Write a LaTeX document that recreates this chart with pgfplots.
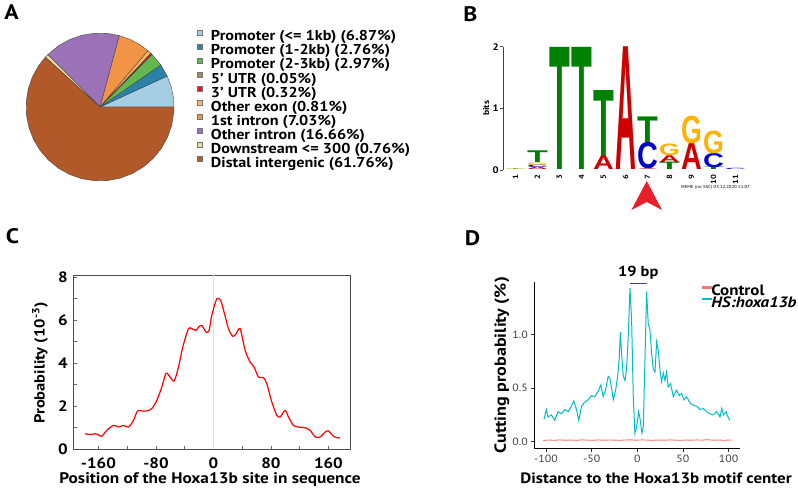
\documentclass[border=0pt]{standalone}
\usepackage{pgfplots}
\usepackage{pgfplotstable}
\pgfplotsset{compat=1.18}
\usepgfplotslibrary{polar}
\usepackage{fontspec}
\setmainfont{PT Sans}[FakeStretch=1.13]
\newfontfamily\logofont{Liberation Sans}
\definecolor{cPa}{HTML}{A6CEE3}
\definecolor{cPb}{HTML}{2A82A8}
\definecolor{cPc}{HTML}{62B84E}
\definecolor{cUf}{HTML}{A88B6A}
\definecolor{cUt}{HTML}{E31A1C}
\definecolor{cEx}{HTML}{FDB863}
\definecolor{cIa}{HTML}{F29445}
\definecolor{cIo}{HTML}{9B72B8}
\definecolor{cDs}{HTML}{E8DCA0}
\definecolor{cDi}{HTML}{B15928}
\definecolor{lgA}{HTML}{CC0000}
\definecolor{lgC}{HTML}{0000CC}
\definecolor{lgG}{HTML}{FFB300}
\definecolor{lgT}{HTML}{008000}
\definecolor{ctrlpink}{HTML}{F8766D}
\definecolor{hsx}{HTML}{00BFC4}
\definecolor{bpblue}{HTML}{3C3C9C}
\definecolor{arrowred}{HTML}{E8202A}

% sequence logo stacks: position, bottom (bits), height (bits)
\pgfplotstableread{
x y h
1 0.012 0.010
2 0.12 0.19
3 0 1.98
4 0 1.98
5 0.22 1.07
7 0.445 0.415
8 0 0.12
10 0 0.04
}\tabT
\pgfplotstableread{
x y h
2 0 0.04
5 0 0.22
6 0 1.99
7 0 0.015
8 0.12 0.11
9 0 0.43
}\tabA
\pgfplotstableread{
x y h
2 0.04 0.04
7 0.015 0.43
10 0.04 0.23
11 0 0.02
}\tabC
\pgfplotstableread{
x y h
1 0 0.012
2 0.08 0.04
8 0.23 0.19
9 0.43 0.45
10 0.27 0.37
}\tabG

\begin{document}
\begin{tikzpicture}
\useasboundingbox (0pt,0pt) rectangle (798pt,493pt);

% ---------------- Panel A ----------------
\begin{polaraxis}[
  at={(100pt,386pt)}, anchor=center,
  scale only axis, width=148pt, height=148pt,
  hide axis, clip=false,
  xmin=0, xmax=360, ymin=0, ymax=1,
  legend style={at={(axis description cs:1.152,1.0216)}, anchor=north west, draw=none, fill=none,
    font=\bfseries\fontsize{14.3}{15}\selectfont, row sep=0.7pt, inner sep=0pt,
    nodes={inner sep=0pt, text height=9.5pt, text depth=2.5pt},
    /tikz/every odd column/.append style={column sep=8.5pt}},
  legend cell align=left,
  legend image code/.code={\draw[#1,draw=black!55,line width=0.3pt] (0pt,2.6pt) rectangle (5.5pt,7.2pt);},
]
\addplot[fill=cPa, draw=black!75, line width=0.35pt] coordinates {(0,0) (0,1) (8,1) (16,1) (24.73,1) (0,0)};
\addlegendentry{Promoter (<= 1kb) (6.87\%)}
\addplot[fill=cPb, draw=black!75, line width=0.35pt] coordinates {(0,0) (24.73,1) (34.67,1) (0,0)};
\addlegendentry{Promoter (1-2kb) (2.76\%)}
\addplot[fill=cPc, draw=black!75, line width=0.35pt] coordinates {(0,0) (34.67,1) (45.36,1) (0,0)};
\addlegendentry{Promoter (2-3kb) (2.97\%)}
\addplot[fill=cUf, draw=black!75, line width=0.35pt] coordinates {(0,0) (45.36,1) (45.54,1) (0,0)};
\addlegendentry{5’ UTR (0.05\%)}
\addplot[fill=cUt, draw=black!75, line width=0.35pt] coordinates {(0,0) (45.54,1) (46.69,1) (0,0)};
\addlegendentry{3’ UTR (0.32\%)}
\addplot[fill=cEx, draw=black!75, line width=0.35pt] coordinates {(0,0) (46.69,1) (49.61,1) (0,0)};
\addlegendentry{Other exon (0.81\%)}
\addplot[fill=cIa, draw=black!75, line width=0.35pt] coordinates {(0,0) (49.61,1) (58,1) (66,1) (74.92,1) (0,0)};
\addlegendentry{1st intron (7.03\%)}
\addplot[fill=cIo, draw=black!75, line width=0.35pt] coordinates {(0,0) (74.92,1) (84,1) (94,1) (104,1) (114,1) (124,1) (134.89,1) (0,0)};
\addlegendentry{Other intron (16.66\%)}
\addplot[fill=cDs, draw=black!75, line width=0.35pt] coordinates {(0,0) (134.89,1) (137.63,1) (0,0)};
\addlegendentry{Downstream <= 300 (0.76\%)}
\addplot[fill=cDi, draw=black!75, line width=0.35pt] coordinates {(0,0) (137.63,1) (146,1) (156,1) (166,1) (176,1) (186,1) (196,1) (206,1) (216,1) (226,1) (236,1) (246,1) (256,1) (266,1) (276,1) (286,1) (296,1) (306,1) (316,1) (326,1) (336,1) (346,1) (356,1) (360,1) (0,0)};
\addlegendentry{Distal intergenic (61.76\%)}
\end{polaraxis}

% ---------------- Panel B ----------------
\begin{axis}[
  at={(503.3pt,323pt)}, anchor=south west,
  scale only axis, width=245.3pt, height=123.3pt,
  xmin=0.45, xmax=11.6, ymin=0, ymax=2,
  axis x line*=bottom, axis y line*=left,
  x axis line style={draw=none},
  y axis line style={-, black!75, line width=0.5pt},
  xtick={1,2,3,4,5,6,7,8,9,10,11}, ytick={0,1,2},
  xtick style={draw=none},
  ytick style={black!75, line width=0.5pt},
  tick align=outside, major tick length=3pt,
  /pgf/number format/assume math mode=true,
  xticklabel style={rotate=90, anchor=east, font=\bfseries\fontsize{7.5}{8}\selectfont, inner sep=1.5pt},
  yticklabel style={font=\bfseries\fontsize{9.5}{10}\selectfont, inner sep=1.5pt},
  ylabel={bits},
  ylabel style={at={(axis description cs:-0.07,0.5)}, anchor=center, font=\bfseries\fontsize{8.5}{9}\selectfont},
  clip=false,
]
\addplot[only marks, mark=none, visualization depends on={61.65*\thisrow{h}\as\hh},
  nodes near coords={\resizebox*{20.8pt}{\hh pt}{\logofont\bfseries T}},
  every node near coord/.append style={anchor=south, inner sep=0pt, outer sep=0pt, text=lgT}]
  table[x=x,y=y] {\tabT};
\addplot[only marks, mark=none, visualization depends on={61.65*\thisrow{h}\as\hh},
  nodes near coords={\resizebox*{20.8pt}{\hh pt}{\logofont\bfseries A}},
  every node near coord/.append style={anchor=south, inner sep=0pt, outer sep=0pt, text=lgA}]
  table[x=x,y=y] {\tabA};
\addplot[only marks, mark=none, visualization depends on={61.65*\thisrow{h}\as\hh},
  nodes near coords={\resizebox*{20.8pt}{\hh pt}{\logofont\bfseries C}},
  every node near coord/.append style={anchor=south, inner sep=0pt, outer sep=0pt, text=lgC}]
  table[x=x,y=y] {\tabC};
\addplot[only marks, mark=none, visualization depends on={61.65*\thisrow{h}\as\hh},
  nodes near coords={\resizebox*{20.8pt}{\hh pt}{\logofont\bfseries G}},
  every node near coord/.append style={anchor=south, inner sep=0pt, outer sep=0pt, text=lgG}]
  table[x=x,y=y] {\tabG};
\node[font=\fontsize{4.3}{5}\selectfont] at (axis cs:10.09,-0.29) {MEME (no SSC) 03.12.2020 21:07};
\end{axis}
\fill[arrowred] (646.7pt,312pt) -- (662pt,283pt) -- (646.7pt,291pt) -- (631.4pt,283pt) -- cycle;

% ---------------- Panel C ----------------
\begin{axis}[
  at={(73.3pt,44pt)}, anchor=south west,
  scale only axis, width=276.7pt, height=174pt,
  xmin=-195, xmax=190, ymin=0, ymax=8.1,
  xtick={-160,-80,0,80,160}, minor xtick={-120,-40,40,120},
  ytick={0,2,4,6,8}, minor ytick={1,3,5,7},
  tick pos=left, tick align=inside,
  major tick length=3.5pt, minor tick length=3.5pt,
  axis line style={black!70, line width=0.6pt},
  every tick/.style={black!60, line width=0.5pt},
  /pgf/number format/assume math mode=true,
  ticklabel style={font=\bfseries\fontsize{15}{17}\selectfont},
  xticklabel style={yshift=-5pt},
  yticklabel style={xshift=-2pt},
  xlabel={Position of the Hoxa13b site in sequence},
  ylabel={Probability (10\textsuperscript{-3})},
  xlabel style={at={(axis description cs:0.494,-0.178)}, anchor=center, font=\bfseries\fontsize{15.3}{17}\selectfont},
  ylabel style={at={(axis description cs:-0.12,0.494)}, anchor=center, font=\bfseries\fontsize{14.6}{16}\selectfont},
]
\addplot[gray!25, line width=0.8pt] coordinates {(0,0) (0,8.1)};
\addplot[red, line width=1.2pt, smooth, tension=0.45] coordinates {
(-178.6,0.71) (-171.6,0.67) (-164.6,0.71) (-160,0.66) (-155.4,0.59) (-148.4,0.87) (-139.1,1.10)
(-132.2,1.02) (-125.2,1.10) (-118.3,1.02) (-111.3,1.33) (-105.7,1.77) (-99.7,1.77)
(-92.8,1.77) (-85.8,1.88) (-78.8,2.26) (-71.9,2.88) (-65.9,3.53) (-60.3,3.35) (-54.7,3.16)
(-48.7,3.81) (-42.7,4.74) (-34.8,5.60) (-30.1,5.60) (-24.1,5.52) (-20.9,5.67) (-16.2,5.75)
(-10.2,5.44) (-6.0,5.52) (-2.3,6.22) (4.6,6.99) (10.2,6.91) (14.8,6.37) (20.9,5.60)
(26.9,5.24) (31.5,5.36) (37.1,5.60) (44.1,4.59) (51.0,4.05) (56.6,3.81) (62.6,3.35)
(69.6,3.32) (74.2,3.04) (81.2,2.19) (88.1,1.57) (92.8,1.49) (99.7,1.80) (104.4,1.49)
(111.3,1.10) (118.3,1.02) (127.5,0.99) (134.5,0.87) (141.5,0.56) (148.4,0.56) (155.4,0.79)
(160.0,0.84) (167.0,0.59) (173.9,0.51) (176.2,0.53)
};
\end{axis}

% ---------------- Panel D ----------------
\begin{axis}[
  at={(534.3pt,44.3pt)}, anchor=south west,
  scale only axis, width=205.7pt, height=167pt,
  xmin=-112.8, xmax=112.5, ymin=-0.065, ymax=1.491,
  axis x line*=bottom, axis y line*=left,
  axis line style={-, black, line width=0.8pt},
  xtick={-100,-50,0,50,100}, ytick={0,0.5,1},
  yticklabels={0.0,0.5,1.0},
  tick align=outside, major tick length=3pt,
  every tick/.style={black!85, line width=0.6pt},
  /pgf/number format/assume math mode=true,
  ticklabel style={font=\fontsize{10.5}{12}\selectfont, text=black!75},
  xlabel={Distance to the Hoxa13b motif center},
  ylabel={Cutting probability (\%)},
  xlabel style={at={(axis description cs:0.592,-0.175)}, anchor=center, font=\bfseries\fontsize{15}{17}\selectfont},
  ylabel style={at={(axis description cs:-0.158,0.5)}, anchor=center, font=\bfseries\fontsize{16}{18}\selectfont},
  clip=false,
  legend style={at={(axis description cs:0.814,0.911)}, anchor=west, draw=none, fill=none,
    font=\bfseries\fontsize{15}{16}\selectfont, inner sep=0pt, row sep=1.6pt,
    nodes={inner sep=0pt, text height=10pt, text depth=0pt}},
  legend cell align=left,
]
\addlegendimage{legend image code/.code={\fill[ctrlpink] (0pt,2.9pt) rectangle (9pt,4.1pt);}}
\addlegendentry{Control}
\addlegendimage{legend image code/.code={\fill[hsx] (0pt,2.9pt) rectangle (9pt,4.1pt);}}
\addlegendentry{\textit{HS:hoxa13b}}
\addplot[color=ctrlpink, line width=0.9pt, forget plot] coordinates {
(-103,0.012) (-97,0.016) (-91,0.013) (-85,0.017) (-79,0.014) (-73,0.016) (-67,0.013) (-61,0.017)
(-55,0.015) (-49,0.013) (-43,0.017) (-37,0.014) (-31,0.016) (-25,0.015) (-19,0.013) (-13,0.016)
(-7,0.018) (-1,0.014) (5,0.017) (11,0.015) (17,0.013) (23,0.016) (29,0.014) (35,0.017)
(41,0.015) (47,0.013) (53,0.016) (59,0.014) (65,0.017) (71,0.015) (77,0.019) (83,0.014)
(89,0.016) (95,0.013) (101,0.016) (103,0.014)
};
\addplot[color=hsx, line width=1pt, forget plot] coordinates {
(-102.2,0.21) (-99.6,0.30) (-97.8,0.23) (-94.1,0.25) (-90.5,0.20) (-86.8,0.28) (-83.2,0.26)
(-79.5,0.30) (-75.8,0.28) (-72.2,0.33) (-69.6,0.38) (-66.6,0.30) (-64.1,0.20) (-61.1,0.33)
(-57.5,0.37) (-53.8,0.39) (-50.2,0.43) (-46.5,0.42) (-42.9,0.47) (-39.9,0.53) (-37.4,0.42)
(-34.8,0.48) (-31.9,0.61) (-30.0,0.59) (-28.1,0.50) (-26.3,0.39) (-23.7,0.48) (-21.5,0.61)
(-19.7,0.78) (-18.6,1.02) (-17.2,0.82) (-15.3,0.61) (-13.5,0.57) (-11.7,0.68) (-9.9,0.98)
(-8.0,1.43) (-6.2,1.13) (-4.4,0.42) (-2.6,0.08) (-0.7,0.14) (1.5,0.28) (2.9,0.22) (5.1,0.08)
(6.6,0.14) (8.4,0.76) (10.2,1.40) (12.0,1.10) (13.9,1.04) (15.7,0.82) (17.5,0.68) (19.4,0.65)
(21.2,0.93) (23.0,0.85) (24.8,0.67) (26.6,0.56) (28.5,0.64) (30.3,0.57) (32.1,0.65) (33.9,0.51)
(36.5,0.54) (39.4,0.42) (43.1,0.48) (46.0,0.43) (48.5,0.45) (51.1,0.39) (54.0,0.42) (57.7,0.36)
(61.3,0.34) (65.0,0.33) (68.7,0.30) (72.3,0.31) (76.0,0.28) (79.6,0.26) (83.3,0.25) (87.0,0.28)
(90.6,0.23) (92.5,0.31) (94.3,0.25) (97.2,0.28) (99.8,0.22) (101.6,0.20)
};
\addplot[color=bpblue, line width=1.3pt, forget plot] coordinates {(-8.5,1.476) (10.5,1.476)};
\node[font=\bfseries\fontsize{14.5}{16}\selectfont] at (axis cs:1,1.572) {19 bp};
\end{axis}

% panel letters
\node[font=\bfseries\fontsize{21}{24}\selectfont] at (11.5pt,480.5pt) {A};
\node[font=\bfseries\fontsize{21}{24}\selectfont] at (470.5pt,478.5pt) {B};
\node[font=\bfseries\fontsize{21}{24}\selectfont] at (12.5pt,257pt) {C};
\node[font=\bfseries\fontsize{21}{24}\selectfont] at (472.5pt,255pt) {D};
\end{tikzpicture}
\end{document}
